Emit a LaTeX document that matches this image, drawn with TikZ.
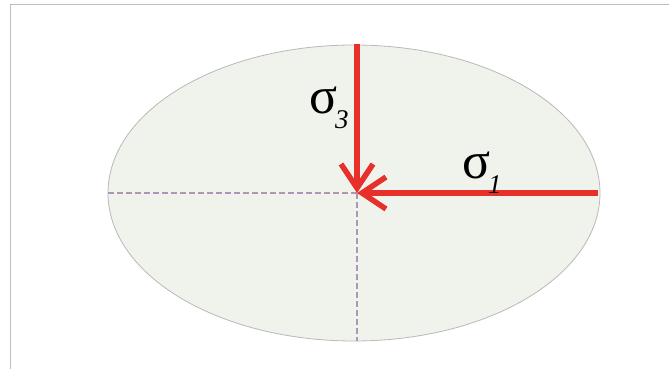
\documentclass[tikz,border=0pt]{standalone}
\usepackage{fontspec}
\setmainfont{Liberation Serif}
\usetikzlibrary{arrows.meta}
\definecolor{fillgreen}{RGB}{239,243,236}
\definecolor{edgegray}{RGB}{185,185,185}
\definecolor{stressred}{RGB}{232,48,42}
\definecolor{dashpurple}{RGB}{170,152,182}
\definecolor{framegray}{RGB}{190,190,190}
\tikzset{
  stress/.style={line width=5.5pt, draw=stressred, -{Straight Barb[length=24pt,width=32pt,line width=5.5pt]}},
  axis/.style={line width=2pt, draw=dashpurple, dash pattern=on 6pt off 3pt},
  lab/.style={inner sep=0pt, anchor=base west, text=black}
}
\newcommand{\siglab}[1]{\fontsize{52}{54}\selectfont σ\kern-2pt\fontsize{27}{29}\selectfont\raisebox{-15pt}{\itshape #1}}
\begin{document}
\begin{tikzpicture}[x=1pt,y=-1pt]
\useasboundingbox (0,0) rectangle (669,369);
\fill[white] (0,0) rectangle (669,369);
\draw[framegray, line width=1pt] (10.5,369) -- (10.5,4.5) -- (669,4.5);
\draw[fill=fillgreen, draw=edgegray, line width=0.8pt] (354,193) ellipse [x radius=246, y radius=148];
\coordinate (c) at (357,193);
\coordinate (left) at (108,193);
\coordinate (bottom) at (357,341);
\coordinate (top) at (357,44);
\coordinate (right) at (598,193);
\draw[axis] (c) -- (left);
\draw[axis] (c) -- (bottom);
\draw[stress] (top) -- (c);
\draw[stress] (right) -- (c);
\node[lab] (s3) at (309,113) {\siglab{3}};
\node[lab] (s1) at (462,178) {\siglab{1}};
\end{tikzpicture}
\end{document}
